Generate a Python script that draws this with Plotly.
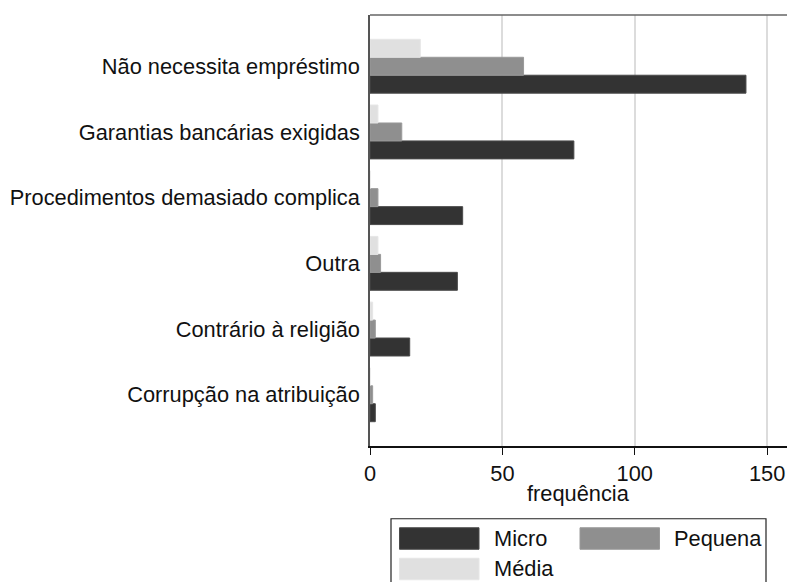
import plotly.graph_objects as go

# Reasons for not applying for a bank loan, by firm size (counts)
categories = [
    "Não necessita empréstimo",
    "Garantias bancárias exigidas",
    "Procedimentos demasiado complica",
    "Outra",
    "Contrário à religião",
    "Corrupção na atribuição",
]
micro = [142, 77, 35, 33, 15, 2]
pequena = [58, 12, 3, 4, 2, 1]
media = [19, 3, 0, 3, 1, 0]

series_names = ["Micro", "Pequena", "Média"]
series_values = [micro, pequena, media]
series_colors = ["#333333", "#8f8f8f", "#e0e0e0"]
series_edges = ["#4a4a4a", "#9a9a9a", "#e6e6e6"]

x_ticks = [0, 50, 100, 150]
x_title = "frequência"

FONT = "Liberation Sans, Arial, sans-serif"
FS = 21.8

# categories listed bottom-to-top so the first one appears on top
cats_bottom_up = categories[::-1]

fig = go.Figure()
for name, vals, col, edge in zip(series_names, series_values, series_colors, series_edges):
    fig.add_trace(go.Bar(
        y=cats_bottom_up,
        x=vals[::-1],
        name=name,
        orientation="h",
        marker=dict(color=col, line=dict(color=edge, width=1)),
        showlegend=False,
    ))

fig.update_layout(
    width=787, height=582,
    margin=dict(l=370, r=0, t=15, b=136),
    paper_bgcolor="white", plot_bgcolor="white",
    barmode="group", bargap=0.18, bargroupgap=0,
    font=dict(family=FONT, size=FS, color="#111111"),
    xaxis=dict(
        range=[0, 157.5], tickvals=x_ticks, ticktext=[str(v) for v in x_ticks],
        showgrid=True, gridcolor="#dcdcdc", gridwidth=1.5,
        showline=True, linecolor="#111111", linewidth=1.5,
        ticks="outside", ticklen=7, tickwidth=1.2, tickcolor="#111111",
        zeroline=False,
        tickfont=dict(size=FS),
    ),
    yaxis=dict(
        type="category", categoryorder="array", categoryarray=cats_bottom_up,
        range=[-0.78, 5.78],
        showgrid=False, showline=True, linecolor="#555555", linewidth=1.5,
        ticks="", ticklabelstandoff=4,
        tickfont=dict(size=FS),
    ),
)

# upper frame line of the plot region
fig.add_shape(type="line", xref="paper", yref="paper", x0=0, x1=1, y0=1, y1=1,
              line=dict(color="#666666", width=1.5))

plot_left, plot_w = 370.0, 417.0
plot_bottom, plot_h = 445.7, 431.2

def px(x):
    return (x - plot_left) / plot_w

def py(y):
    return (plot_bottom - y) / plot_h

# x-axis title placed just under the tick labels
fig.add_annotation(xref="paper", yref="paper", x=0.5, y=py(493), text=x_title,
                   showarrow=False, xanchor="center", yanchor="middle",
                   font=dict(family=FONT, size=FS, color="#111111"))

# hand-built legend box with wide swatches
fig.add_shape(type="rect", xref="paper", yref="paper",
              x0=px(391), x1=px(766), y0=py(518.5), y1=py(600),
              line=dict(color="#222222", width=1.2), fillcolor="white", layer="above")

legend_slots = [(399.5, 527.5, 491.5), (580.0, 527.5, 671.5), (399.5, 558.0, 491.5)]
for name, col, edge, (sx, sy, tx) in zip(series_names, series_colors, series_edges, legend_slots):
    fig.add_shape(type="rect", xref="paper", yref="paper",
                  x0=px(sx), x1=px(sx + 79.5), y0=py(sy), y1=py(sy + 21.5),
                  fillcolor=col, line=dict(color=edge, width=1), layer="above")
    fig.add_annotation(xref="paper", yref="paper", x=px(tx), y=py(sy + 10.75),
                       text=name, showarrow=False, xanchor="left", yanchor="middle",
                       font=dict(family=FONT, size=FS, color="#111111"))

fig.write_html("out.html")
